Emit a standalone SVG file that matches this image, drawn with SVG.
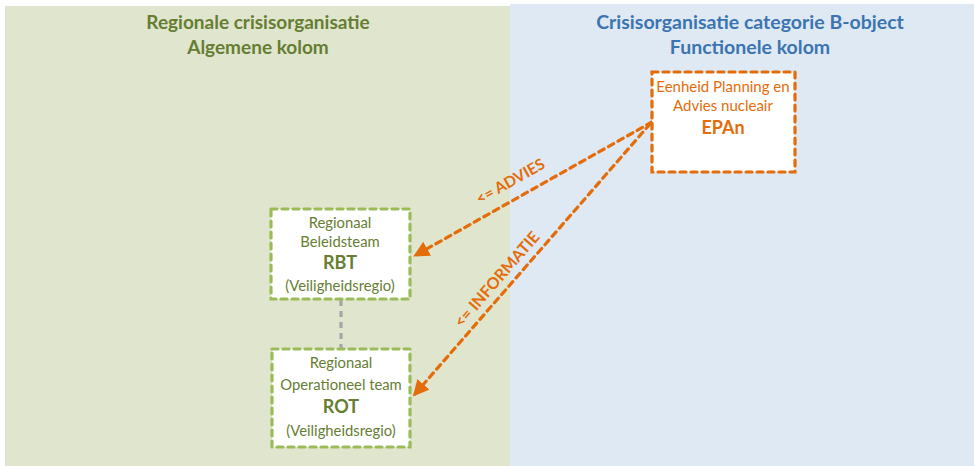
<svg xmlns="http://www.w3.org/2000/svg" width="974" height="466" viewBox="0 0 974 466">
<style>
.t{font-family:Lato,"Open Sans","Liberation Sans",sans-serif;text-anchor:middle}
.g{fill:#667D33}
.o{fill:#E46C0A}
.b{font-weight:bold}
.box{fill:#fff;stroke-width:3.2;stroke-dasharray:6 5;stroke-linecap:round}
.gb{stroke:#9BBB59}
.ob{stroke:#E46C0A}
.arr{fill:none;stroke:#E46C0A;stroke-width:3.2;stroke-dasharray:6 5;stroke-linecap:round}
</style>
<defs>
<marker id="ah" viewBox="0 0 10 10" refX="8" refY="5" markerWidth="5" markerHeight="5" orient="auto" markerUnits="strokeWidth">
<path d="M0,0 L10,5 L0,10 Z" fill="#E46C0A"/>
</marker>
</defs>
<rect x="0" y="0" width="974" height="466" fill="#fff"/>
<rect x="5" y="6" width="505" height="460" fill="#E0E5CD"/>
<rect x="510" y="4" width="464" height="462" fill="#DEE9F3"/>
<g id="title-left">
<text class="t g b" x="258" y="29" font-size="19">Regionale crisisorganisatie</text>
<text class="t g b" x="258" y="54" font-size="19">Algemene kolom</text>
</g>
<g id="title-right">
<text class="t b" fill="#3C74B1" x="750" y="29" font-size="19.5">Crisisorganisatie categorie B-object</text>
<text class="t b" fill="#3C74B1" x="750" y="54" font-size="19.5">Functionele kolom</text>
</g>
<g id="connectors">
<line x1="341" y1="300" x2="341" y2="348" stroke="#A5A5A5" stroke-width="3.2" stroke-dasharray="6 5"/>
<line class="arr" x1="652" y1="122" x2="416" y2="255" marker-end="url(#ah)"/>
<line class="arr" x1="650" y1="124" x2="415" y2="394" marker-end="url(#ah)"/>
<text class="t o b" font-size="15.5" transform="translate(513,186) rotate(-29.4)">&lt;= ADVIES</text>
<text class="t o b" font-size="16" transform="translate(501,283) rotate(-49)">&lt;= INFORMATIE</text>
</g>
<g id="epan">
<rect class="box ob" x="652" y="72" width="143" height="100"/>
<text class="t o" x="723" y="92" font-size="15">Eenheid Planning en</text>
<text class="t o" x="723" y="111" font-size="15">Advies nucleair</text>
<text class="t o b" x="723" y="134" font-size="18">EPAn</text>
</g>
<g id="rbt">
<rect class="box gb" x="271" y="209" width="139" height="90"/>
<text class="t g" x="340" y="228" font-size="14.8">Regionaal</text>
<text class="t g" x="340" y="247" font-size="14.8">Beleidsteam</text>
<text class="t g b" x="340" y="269" font-size="18">RBT</text>
<text class="t g" x="340" y="291" font-size="14.8">(Veiligheidsregio)</text>
</g>
<g id="rot">
<rect class="box gb" x="272" y="349" width="138" height="98"/>
<text class="t g" x="341" y="368" font-size="14.8">Regionaal</text>
<text class="t g" x="341" y="390" font-size="14.8">Operationeel team</text>
<text class="t g b" x="341" y="413" font-size="18">ROT</text>
<text class="t g" x="341" y="436" font-size="14.8">(Veiligheidsregio)</text>
</g>
</svg>
